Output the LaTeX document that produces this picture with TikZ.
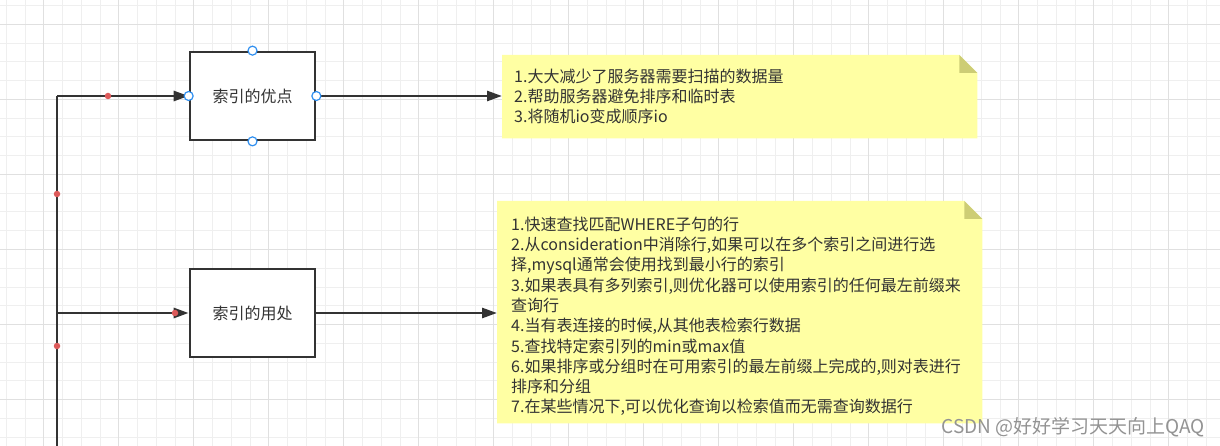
\documentclass[tikz,border=0pt]{standalone}
\usepackage{fontspec}
\newfontfamily\cjk{Noto Sans CJK SC}
\usetikzlibrary{arrows.meta}
\definecolor{ink}{HTML}{333333}
\definecolor{gridminor}{HTML}{EFEFEF}
\definecolor{gridmajor}{HTML}{E0E0E0}
\definecolor{notefill}{HTML}{FFFFA3}
\definecolor{notefold}{HTML}{CDCD75}
\definecolor{handle}{HTML}{2F8FF0}
\definecolor{reddot}{HTML}{DD5A5A}
\tikzset{
  conn/.style={draw=ink, line width=2.7pt},
  arr/.style={conn, -{Triangle[length=15pt,width=10pt]}},
  boxnode/.style={draw=ink, line width=2.7pt, fill=white, minimum width=125pt, minimum height=88pt, inner sep=0pt, font=\cjk\fontsize{16}{18}\selectfont, text=ink},
  notebody/.style={inner sep=0pt, anchor=north west},
  notetext/.style={inner sep=0pt, anchor=north west, align=left, font=\cjk\fontsize{16}{20.3}\selectfont, text=ink},
  hdl/.style={circle, draw=handle, fill=white, line width=1.2pt, minimum size=9pt, inner sep=0pt},
  rdot/.style={circle, fill=reddot, minimum size=6.5pt, inner sep=0pt},
}
\begin{document}
\begin{tikzpicture}[x=1pt,y=-1pt]
\useasboundingbox (0,0) rectangle (1220,446);
\fill[white] (0,0) rectangle (1220,446);
\begin{scope}
\clip (0,0) rectangle (1220,446);
\foreach \i in {0,...,65} { \draw[gridminor, line width=1pt] ({6.25+18.75*\i},0) -- ++(0,446); }
\foreach \i in {0,...,24} { \draw[gridminor, line width=1pt] (0,{5.75+18.75*\i}) -- ++(1220,0); }
\foreach \k in {0,...,16} { \draw[gridmajor, line width=1pt] ({-31.25+75*\k},0) -- ++(0,446); }
\foreach \k in {0,...,5} { \draw[gridmajor, line width=1pt] (0,{24.5+75*\k}) -- ++(1220,0); }
\end{scope}

% boxes
\node[boxnode] (b1) at (252.5,96) {索引的优点};
\node[boxnode] (b2) at (252.5,313) {索引的用处};

% notes
\node[notebody, minimum width=475pt, minimum height=83pt] (n1) at (502,55) {};
\fill[notefill] (n1.north west) -- ([xshift=-18pt]n1.north east) -- ([yshift=-18pt]n1.north east) -- (n1.south east) -- (n1.south west) -- cycle;
\fill[notefold] ([xshift=-18pt]n1.north east) -- ([xshift=-18pt,yshift=-18pt]n1.north east) -- ([yshift=-18pt]n1.north east) -- cycle;
\node[notetext] (n1t) at (514,68.5) {1.大大减少了服务器需要扫描的数据量\\2.帮助服务器避免排序和临时表\\3.将随机io变成顺序io};

\node[notebody, minimum width=485pt, minimum height=222pt] (n2) at (497,201) {};
\fill[notefill] (n2.north west) -- ([xshift=-18pt]n2.north east) -- ([yshift=-18pt]n2.north east) -- (n2.south east) -- (n2.south west) -- cycle;
\fill[notefold] ([xshift=-18pt]n2.north east) -- ([xshift=-18pt,yshift=-18pt]n2.north east) -- ([yshift=-18pt]n2.north east) -- cycle;
\node[notetext] (n2t) at (511,216.5) {1.快速查找匹配WHERE子句的行\\2.从consideration中消除行,如果可以在多个索引之间进行选\\择,mysql通常会使用找到最小行的索引\\3.如果表具有多列索引,则优化器可以使用索引的任何最左前缀来\\查询行\\4.当有表连接的时候,从其他表检索行数据\\5.查找特定索引列的min或max值\\6.如果排序或分组时在可用索引的最左前缀上完成的,则对表进行\\排序和分组\\7.在某些情况下,可以优化查询以检索值而无需查询数据行};

% trunk
\coordinate (t1) at (57,96);
\coordinate (t2) at (57,313);
\coordinate (tend) at (57,446);
\draw[conn] (t1) -- (tend);
\draw[arr] (t1) -- (b1.west);
\draw[arr] (t2) -- (b2.west);
\draw[arr] (b1.east) -- (b1.east -| n1.west);
\draw[arr] (b2.east) -- (b2.east -| n2.west);

% handles and dots
\node[hdl] (h1) at (b1.north) {};
\node[hdl] (h2) at (b1.south) {};
\node[hdl] (h3) at (b1.west) {};
\node[hdl] (h4) at (b1.east) {};
\node[rdot] (r1) at (108,96) {};
\node[rdot] (r2) at (57,194) {};
\node[rdot] (r3) at (57,346) {};
\node[rdot] (r4) at (175,313) {};

% watermark
\node[anchor=base east, inner sep=0pt, font=\cjk\fontsize{19}{21}\selectfont, text=gray!85] (wm) at (1205,433) {CSDN @好好学习天天向上QAQ};
\end{tikzpicture}
\end{document}
